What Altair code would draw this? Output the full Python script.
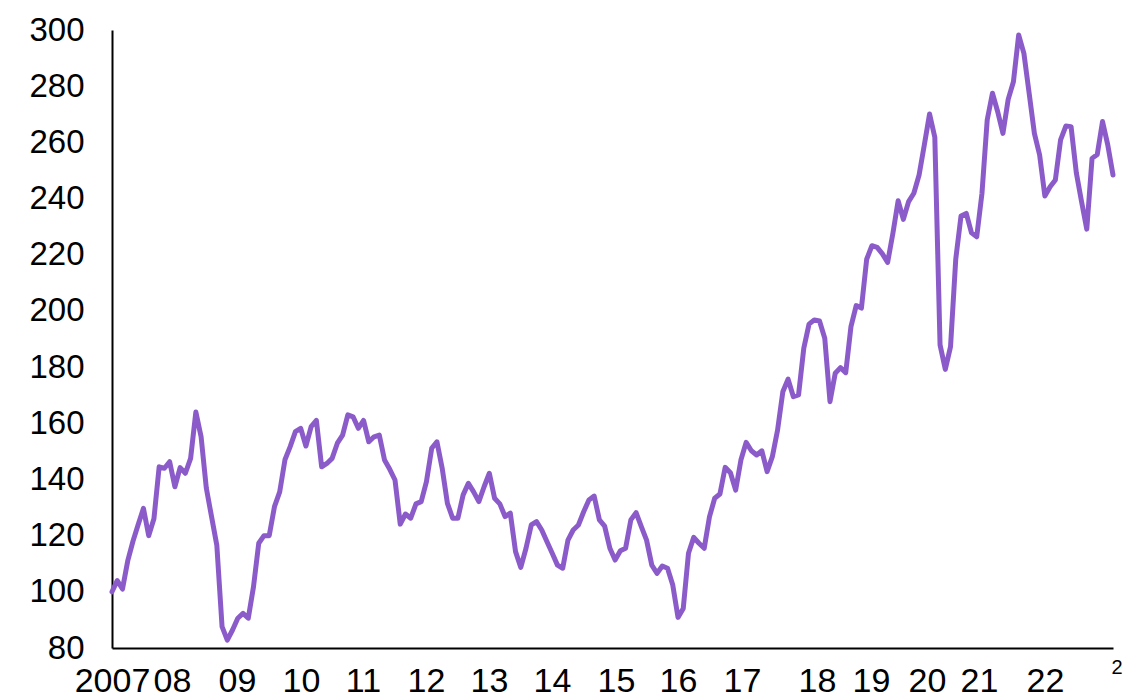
import altair as alt
import pandas as pd

# Monthly index values, Jan 2007 - Dec 2022
y2007 = [100, 104, 101, 111, 118, 124, 129.7, 120, 126, 144.5, 144, 146.3]
y2008 = [137.4, 144.2, 142.2, 147.5, 164, 155.2, 136.9, 126.7, 116.6, 87.6, 82.8, 86.4]
y2009 = [90.6, 92.3, 90.6, 101.8, 117.3, 120, 120, 130.3, 135.6, 147, 151.7, 157]
y2010 = [158.2, 151.9, 158.8, 161, 144.5, 145.7, 147.5, 152.9, 155.8, 163, 162.3, 158.2]
y2011 = [161, 153.4, 155.2, 155.8, 146.9, 143.6, 139.8, 124.1, 127.7, 126.2, 131.3, 132.1]
y2012 = [139.2, 151.1, 153.4, 144, 131.5, 126.2, 126.2, 134.5, 138.6, 135.6, 132.1, 137.4]
y2013 = [142.2, 133.3, 131.3, 126.8, 128, 114.3, 108.7, 115.5, 123.8, 125, 122, 117.8]
y2014 = [113.7, 109.5, 108.4, 118.4, 122, 123.8, 128.5, 132.7, 134.1, 125.6, 123.4, 115.5]
y2015 = [111.3, 114.6, 115.5, 125.6, 128.2, 123.2, 118.4, 109.5, 106.6, 109.2, 108.4, 102.4]
y2016 = [90.9, 94.1, 113.7, 119.4, 117.3, 115.5, 126.7, 133.3, 134.8, 144.3, 142.4, 136.2]
y2017 = [146.9, 153.2, 150.2, 148.7, 150.2, 142.8, 148.1, 157.6, 171.2, 175.7, 169.5, 170.1]
y2018 = [186.7, 195.3, 196.8, 196.4, 190.3, 167.7, 177.8, 179.8, 178, 194.4, 201.9, 201]
y2019 = [218.4, 223.2, 222.6, 220.3, 217.3, 227.6, 239.2, 232.6, 238.9, 241.9, 248.4, 259.1]
y2020 = [270.1, 261.8, 187.9, 179.2, 187.3, 218.5, 233.8, 234.7, 227.8, 226.4, 241.9, 268]
y2021 = [277.5, 270.9, 263.2, 275.3, 281.6, 298.2, 291.7, 277.5, 263.2, 255.5, 240.9, 244.2]
y2022 = [246.6, 260.9, 265.8, 265.6, 249.2, 238.9, 229.1, 254.3, 255.7, 267.4, 259.1, 248.4]

values = (y2007 + y2008 + y2009 + y2010 + y2011 + y2012 + y2013 + y2014 +
          y2015 + y2016 + y2017 + y2018 + y2019 + y2020 + y2021 + y2022)

# Category-axis label positions (in month-index units) and their texts
tick_pos = [0, 11.45, 23.85, 36.06, 47.89, 59.91, 71.93, 83.95, 96.16,
            107.99, 120.21, 134.52, 144.82, 155.5, 165.43, 178.02]
tick_labels = ["2007", "08", "09", "10", "11", "12", "13", "14", "15",
               "16", "17", "18", "19", "20", "21", "22"]
y_ticks = [80, 100, 120, 140, 160, 180, 200, 220, 240, 260, 280, 300]

df = pd.DataFrame({"i": list(range(len(values))), "v": values})

label_expr = ("[" + ",".join(f"'{t}'" for t in tick_labels) + "][indexof(["
              + ",".join(str(p) for p in tick_pos) + "], datum.value)]")

FONT = "Liberation Sans"

chart = alt.Chart(df).mark_line(
    color="#8b5cc9", strokeWidth=5, strokeJoin="round", strokeCap="round"
).encode(
    x=alt.X(
        "i:Q",
        scale=alt.Scale(domain=[0, len(values) - 1], nice=False, zero=False),
        axis=alt.Axis(
            values=tick_pos, labelExpr=label_expr, grid=False, ticks=False, tickSize=0,
            domainColor="black", domainWidth=2, labelFont=FONT, labelFontSize=34,
            labelColor="black", labelPadding=16, labelFlush=False, labelOverlap=False,
            title="2", titleFont=FONT, titleFontSize=20, titleFontWeight="normal",
            titleColor="black", titleX=999, titleY=25, titleAlign="left",
            titleBaseline="alphabetic", titleAnchor="start",
        ),
    ),
    y=alt.Y(
        "v:Q",
        scale=alt.Scale(domain=[80, 300], nice=False, zero=False),
        axis=alt.Axis(
            values=y_ticks, grid=False, ticks=False, tickSize=0, domainColor="black",
            domainWidth=2, labelFont=FONT, labelFontSize=33, labelColor="black",
            labelPadding=28, labelOverlap=False, title=None,
        ),
    ),
).properties(
    width=1001,
    height=618,
    padding={"left": 104, "top": 22, "right": 10, "bottom": 52},
    autosize=alt.AutoSizeParams(type="none"),
).configure_view(stroke=None)

chart.save("out.html", embed_options={"renderer": "svg", "actions": False})
